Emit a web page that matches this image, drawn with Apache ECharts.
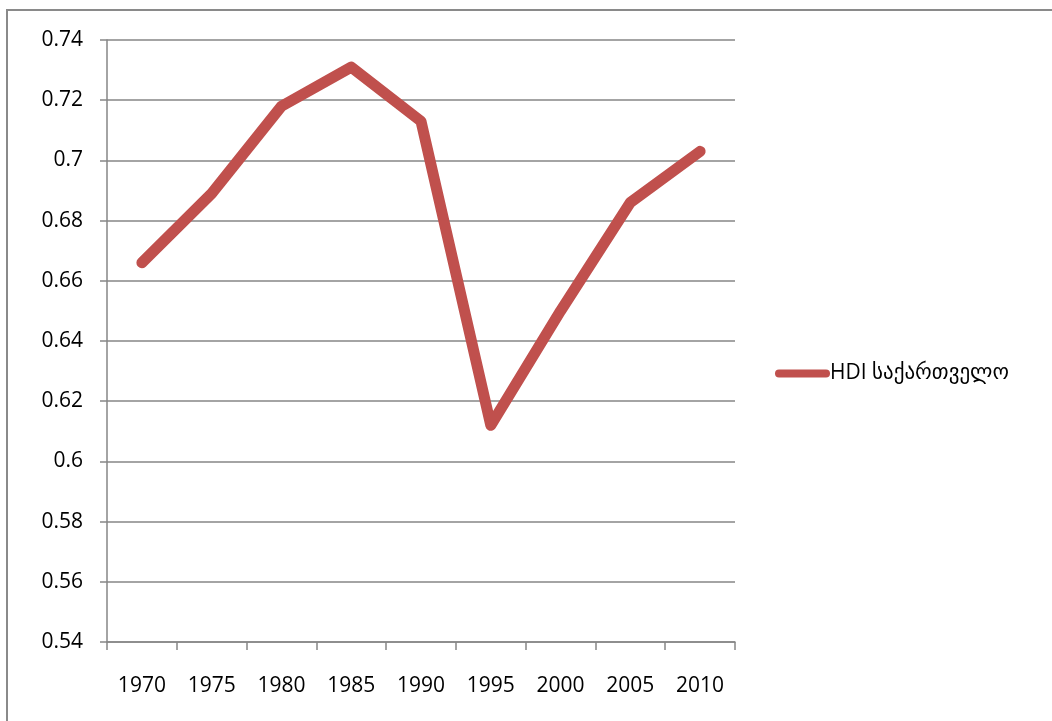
<!DOCTYPE html>
<html>
<head>
<meta charset="utf-8">
<script src="https://cdn.jsdelivr.net/npm/echarts@6/dist/echarts.min.js"></script>
<style>
html,body{margin:0;padding:0;background:#fff;}
#chart{width:1052px;height:721px;}
</style>
</head>
<body>
<div id="chart"></div>
<script>
const categories = ['1970','1975','1980','1985','1990','1995','2000','2005','2010'];
const hdiGeorgia = [0.666, 0.689, 0.718, 0.731, 0.713, 0.612, 0.650, 0.686, 0.703];
const seriesName = 'HDI საქართველო';
const yMin = 0.54, yMax = 0.74, yStep = 0.02;

const FONT = '"Open Sans", "DejaVu Sans", sans-serif';
const chart = echarts.init(document.getElementById('chart'), null, {renderer:'canvas'});
chart.setOption({
  animation: false,
  backgroundColor: '#fff',
  graphic: [{
    type: 'rect',
    shape: {x: 7, y: 10, width: 1070, height: 730},
    style: {fill: 'none', stroke: '#8a8a8a', lineWidth: 2},
    silent: true
  }],
  grid: {left: 107, right: 317, top: 40, bottom: 79, containLabel: false},
  legend: {
    left: 770, top: 358,
    orient: 'vertical',
    itemWidth: 55, itemHeight: 8,
    itemGap: 5,
    textStyle: {fontFamily: FONT, fontSize: 21, color: '#000', padding: [0,0,0,-5]},
    data: [{name: seriesName, icon: 'path://M4,0 L51,0 A4,4 0 0 1 51,8 L4,8 A4,4 0 0 1 4,0 Z'}]
  },
  xAxis: {
    type: 'category',
    data: categories,
    boundaryGap: true,
    axisLine: {lineStyle: {color: '#868686', width: 1.5}},
    axisTick: {show: true, length: 8, lineStyle: {color: '#868686', width: 1.5}},
    axisLabel: {fontFamily: FONT, fontSize: 21, color: '#000', margin: 34},
    splitLine: {show: false}
  },
  yAxis: {
    type: 'value',
    min: yMin, max: yMax, interval: yStep,
    axisLine: {show: true, lineStyle: {color: '#868686', width: 1.5}},
    axisTick: {show: true, length: 7, lineStyle: {color: '#868686', width: 1.5}},
    axisLabel: {
      fontFamily: FONT, fontSize: 21, color: '#000', margin: 24,
      formatter: v => String(parseFloat(v.toFixed(2)))
    },
    splitLine: {show: true, lineStyle: {color: '#868686', width: 1.5}}
  },
  series: [{
    name: seriesName,
    type: 'line',
    data: hdiGeorgia,
    symbol: 'none',
    lineStyle: {color: '#C0504D', width: 11, cap: 'round', join: 'round'},
    itemStyle: {color: '#C0504D'}
  }]
});
</script>
</body>
</html>
